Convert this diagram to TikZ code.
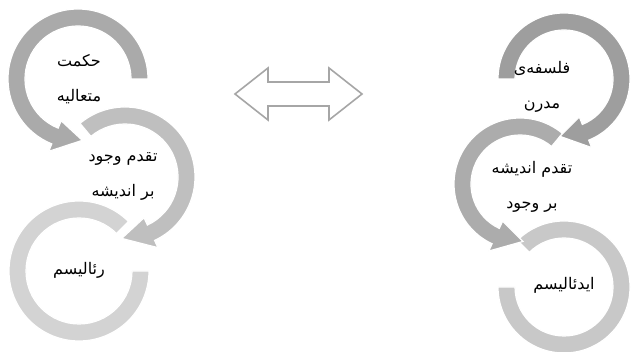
\documentclass[tikz,border=0pt]{standalone}
\usepackage{fontspec}
\usepackage{xcolor}
\usepackage{tikz}
\usetikzlibrary{calc}
\newfontfamily\farsi[Script=Arabic]{DejaVu Sans}
\TeXXeTstate=1
\definecolor{topL}{RGB}{170,170,170}
\definecolor{midL}{RGB}{191,191,191}
\definecolor{botL}{RGB}{211,211,211}
\definecolor{topR}{RGB}{158,158,158}
\definecolor{midR}{RGB}{172,172,172}
\definecolor{botR}{RGB}{200,200,200}
\definecolor{swapgray}{RGB}{166,166,166}

% ring with arrow head: colour, centre, start angle, head base angle, tip angle
\newcommand{\ringarrow}[5]{%
  \fill[#1, ringedge] ($(#2)+(#3:\ro)$) arc[start angle=#3, end angle=#4, radius=\ro]
    -- ($(#2)+(#4:{\ro+\hw})$) -- ($(#2)+(#5:{(\ro+\ri)/2})$) -- ($(#2)+(#4:{\ri-\hw})$)
    -- ($(#2)+(#4:\ri)$) arc[start angle=#4, end angle=#3, radius=\ri] -- cycle;}
% open ring, no head: colour, centre, start angle, end angle
\newcommand{\ringopen}[4]{%
  \fill[#1, ringedge] ($(#2)+(#3:\ro)$) arc[start angle=#3, end angle=#4, radius=\ro]
    -- ($(#2)+(#4:\ri)$) arc[start angle=#4, end angle=#3, radius=\ri] -- cycle;}

\begin{document}
\begin{tikzpicture}[
    x=1pt, y=1pt,
    ringedge/.style={draw=white, line width=1.2pt},
    lbl/.style={font=\farsi\fontsize{16}{35}\selectfont, align=center, text=black},
    swaparrow/.style={draw=swapgray, line width=1.6pt, fill=white, line join=miter},
]
\fill[white] (0,0) rectangle (634,352);
\useasboundingbox (0,0) rectangle (634,352);

\coordinate (L1) at (78,273);
\coordinate (L2) at (125,175);
\coordinate (L3) at (79,81);
\coordinate (R1) at (564,273);
\coordinate (R2) at (520,168);
\coordinate (R3) at (564,65);
\coordinate (dbl) at (298.5,258);

% left column
\def\ro{70}\def\ri{53}\def\hw{8}
\ringopen{botL}{L3}{45}{360}
\ringarrow{midL}{L2}{130}{-65}{-93}
\ringarrow{topL}{L1}{0}{248}{274}

% right column
\def\ro{66}\def\ri{49}\def\hw{8}
\ringopen{botR}{R3}{135}{-180}
\ringarrow{midR}{R2}{50}{245}{273}
\ringarrow{topR}{R1}{180}{-68}{-94}

% double arrow between the columns
\draw[swaparrow, shift={(dbl)}] (-63.5,0) -- (-30.5,26) -- (-30.5,12) -- (30.5,12)
  -- (30.5,26) -- (63.5,0) -- (30.5,-26) -- (30.5,-12) -- (-30.5,-12) -- (-30.5,-26) -- cycle;

\node[lbl] (hekmat)  at ($(L1)+(1,0)$) {\beginR حکمت\endR\\\beginR متعالیه\endR};
\node[lbl] (vojud)   at ($(L2)+(-2,1)$) {\beginR تقدم وجود\endR\\\beginR بر اندیشه\endR};
\node[lbl] (realism) at ($(L3)+(0,1)$) {\beginR رئالیسم\endR};
\node[lbl] (modern)  at ($(R1)+(-22,-8)$) {\beginR فلسفه‌ی\endR\\\beginR مدرن\endR};
\node[lbl] (andishe) at ($(R2)+(12,-3)$) {\beginR تقدم اندیشه\endR\\\beginR بر وجود\endR};
\node[lbl] (idealism) at ($(R3)+(0,2)$) {\beginR ایدئالیسم\endR};
\end{tikzpicture}
\end{document}
